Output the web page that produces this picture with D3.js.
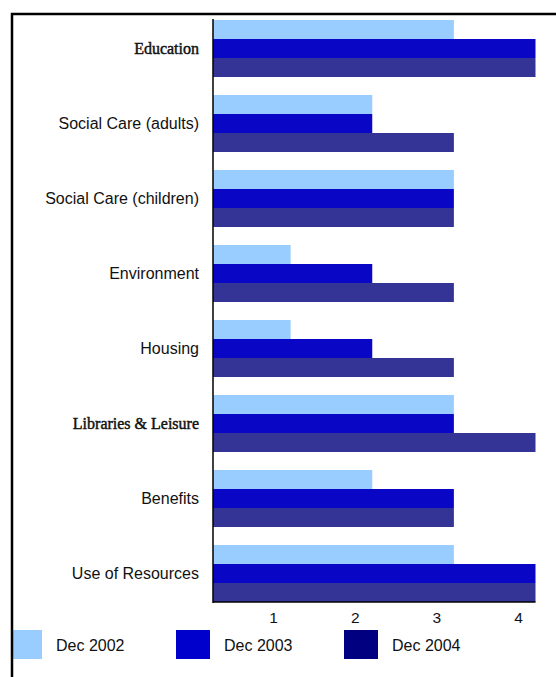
<!DOCTYPE html>
<html>
<head>
<meta charset="utf-8">
<script src="https://cdn.jsdelivr.net/npm/d3@7"></script>
<style>
  html, body { margin: 0; padding: 0; background: #ffffff; }
  svg { display: block; }
</style>
</head>
<body>
<svg id="chart" width="556" height="677"></svg>
<script>
const categories = ["Education", "Social Care (adults)", "Social Care (children)", "Environment",
  "Housing", "Libraries & Leisure", "Benefits", "Use of Resources"];
const serifCategories = ["Education", "Libraries & Leisure"];
const seriesNames = ["Dec 2002", "Dec 2003", "Dec 2004"];
const dec2002 = [3, 2, 3, 1, 1, 3, 2, 3];
const dec2003 = [4, 2, 3, 2, 2, 3, 3, 4];
const dec2004 = [4, 3, 3, 3, 3, 4, 3, 4];
const tickValues = [1, 2, 3, 4];
const barColors = ["#99ccff", "#0a06c6", "#343497"];
const legendColors = ["#99ccff", "#0000cc", "#000080"];

const seriesValues = [dec2002, dec2003, dec2004];
const rows = categories.map((c, i) => ({
  category: c,
  values: seriesNames.map((s, j) => ({ series: s, value: seriesValues[j][i] }))
}));

const svg = d3.select("#chart");
const plotLeft = 213, plotTop = 20, plotBottom = 602;

const x = d3.scaleLinear().domain([0, 4]).range([209, 535.5]);
const y = d3.scaleBand().domain(categories).range([plotTop, plotBottom]).paddingInner(0.24).paddingOuter(0);
const ySub = d3.scaleBand().domain(seriesNames).range([0, y.bandwidth()]).padding(0);
const color = d3.scaleOrdinal().domain(seriesNames).range(barColors);
const legendColor = d3.scaleOrdinal().domain(seriesNames).range(legendColors);

svg.append("defs").append("clipPath").attr("id", "frameClip")
  .append("rect").attr("x", 13).attr("y", 14).attr("width", 556).attr("height", 677);

const g = svg.append("g").attr("clip-path", "url(#frameClip)");

const groups = g.selectAll("g.grp").data(rows).join("g")
  .attr("class", "grp")
  .attr("transform", d => `translate(0,${y(d.category)})`);
groups.selectAll("rect").data(d => d.values).join("rect")
  .attr("x", plotLeft)
  .attr("y", d => ySub(d.series))
  .attr("width", d => Math.max(0, x(d.value) - plotLeft))
  .attr("height", ySub.bandwidth())
  .attr("fill", d => color(d.series));

g.selectAll("text.cat").data(categories).join("text")
  .attr("class", "cat")
  .attr("x", 199)
  .attr("y", d => y(d) + y.bandwidth() / 2)
  .attr("dy", "0.35em")
  .attr("text-anchor", "end")
  .attr("font-family", d => serifCategories.includes(d) ? "'Liberation Serif', 'Times New Roman', serif" : "'Liberation Sans', Arial, sans-serif")
  .attr("font-size", 16)
  .attr("fill", "#111")
  .attr("stroke", d => serifCategories.includes(d) ? "#111" : "none")
  .attr("stroke-width", 0.45)
  .text(d => d);

g.append("line").attr("x1", plotLeft).attr("x2", plotLeft).attr("y1", plotTop - 1).attr("y2", plotBottom + 1)
  .attr("stroke", "#000").attr("stroke-width", 1.5);
g.append("line").attr("x1", plotLeft).attr("x2", x(4)).attr("y1", plotBottom).attr("y2", plotBottom)
  .attr("stroke", "#000").attr("stroke-width", 1.5);

const xAxis = d3.axisBottom(x).tickValues(tickValues).tickSize(0).tickFormat(d3.format("d"));
const ax = g.append("g").attr("transform", `translate(-17.5,${plotBottom + 7})`).call(xAxis);
ax.select(".domain").remove();
ax.selectAll("text")
  .attr("font-family", "'Liberation Sans', Arial, sans-serif")
  .attr("font-size", 15.5)
  .attr("fill", "#111");

const legend = g.append("g").selectAll("g").data(seriesNames).join("g")
  .attr("transform", (d, i) => `translate(${8 + i * 168},630)`);
legend.append("rect").attr("width", 34).attr("height", 29).attr("fill", d => legendColor(d));
legend.append("text").attr("x", 48).attr("y", 15).attr("dy", "0.35em")
  .attr("font-family", "'Liberation Sans', Arial, sans-serif")
  .attr("font-size", 16).attr("fill", "#111")
  .text(d => d);

svg.append("path").attr("d", "M12,677 L12,14 L556,14")
  .attr("fill", "none").attr("stroke", "#000").attr("stroke-width", 2.5);
</script>
</body>
</html>
